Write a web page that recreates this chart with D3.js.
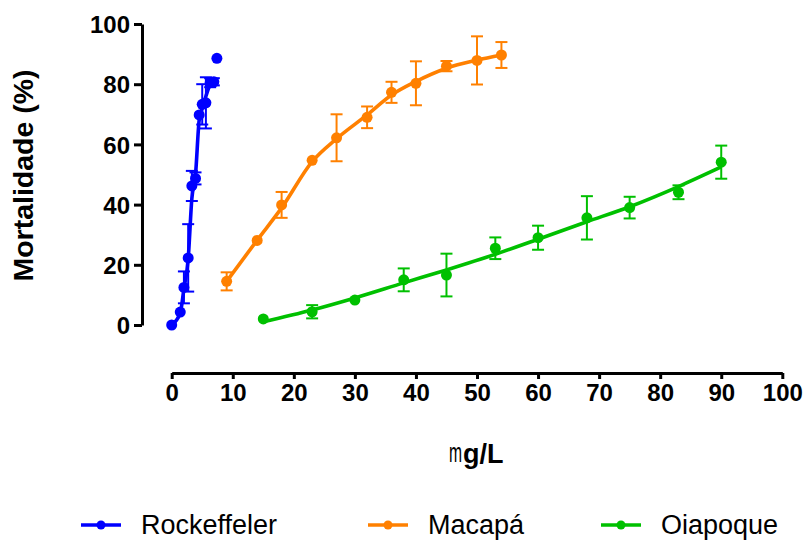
<!DOCTYPE html>
<html>
<head>
<meta charset="utf-8">
<script src="https://cdn.jsdelivr.net/npm/d3@7"></script>
<style>
  body { margin: 0; background: #fff; }
  svg { display: block; }
</style>
</head>
<body>
<div id="chart"></div>
<script>
// data
const seriesNames = ["Rockeffeler", "Macapá", "Oiapoque"];
const seriesColors = ["#0000ff", "#ff8000", "#00c000"];

const rockX = [0, 1.4, 2.0, 2.7, 3.3, 3.9, 4.5, 5.0, 5.6, 6.3, 6.9, 7.4];
const rockY = [0, 4.3, 12.5, 22.3, 46.2, 48.7, 69.8, 73.3, 73.8, 80.5, 80.8, 88.6];
const rockErr = [0, 0, 5.3, 11.2, 5, 2, 0, 6.7, 8.5, 1.5, 1.2, 0];
const rockFitX = [0, 1.4, 2.0, 2.7, 3.3, 3.9, 4.5, 5.0, 5.6, 6.3, 7.0];
const rockFitY = [0, 4, 12, 22, 42, 50, 68, 72, 76, 80, 82];

const macX = [9, 14, 18, 23, 27, 32, 36, 40, 45, 50, 54];
const macY = [14.5, 28.1, 39.9, 54.7, 62.2, 69, 77.3, 80.3, 86, 87.9, 89.7];
const macErr = [3, 0, 4.3, 0, 7.8, 3.6, 3.5, 7.3, 1.7, 8, 4.3];
const macFitX = [9, 14, 18, 23, 27, 32, 36, 40, 45, 50, 54];
const macFitY = [14.5, 28.2, 38.9, 54.3, 61.9, 69.8, 76.4, 80.9, 85.3, 88, 89.7];

const oiaX = [15, 23, 30, 38, 45, 53, 60, 68, 75, 83, 90];
const oiaY = [2.0, 4.4, 8.3, 15, 16.6, 25.5, 29, 35.6, 39, 44.1, 54.1];
const oiaErr = [0, 2.2, 0, 3.8, 7.1, 3.6, 4, 7.2, 3.6, 2.3, 5.5];
const oiaFitX = [15, 23, 30, 38, 45, 53, 60, 68, 75, 83, 90];
const oiaFitY = [1.1, 5.0, 9.0, 14.0, 18.3, 23.5, 28.5, 34.3, 39.3, 46, 52.5];

const xTicks = [0, 10, 20, 30, 40, 50, 60, 70, 80, 90, 100];
const yTicks = [0, 20, 40, 60, 80, 100];

function drawChart() {
  const width = 806, height = 540;

  const svg = d3
    .select("#chart")
    .append("svg")
    .attr("width", width)
    .attr("height", height)
    .style("font-family", "'Liberation Sans', Arial, sans-serif");

  // échelles
  const xScale = d3.scaleLinear().domain([0, 100]).range([171.7, 782.3]);
  const yScale = d3.scaleLinear().domain([0, 100]).range([325, 24]);

  const axisX = 142; // y axis position (offset like GraphPad)
  const axisY = 373; // x axis position

  // Axes
  const gx = svg
    .append("g")
    .attr("transform", `translate(0,${axisY})`)
    .call(d3.axisBottom(xScale).tickValues(xTicks).tickSize(6).tickSizeOuter(0).tickPadding(4));

  const gy = svg
    .append("g")
    .attr("transform", `translate(${axisX},0)`)
    .call(d3.axisLeft(yScale).tickValues(yTicks).tickSize(8).tickSizeOuter(0).tickPadding(4));

  [gx, gy].forEach((g) => {
    g.select(".domain").attr("stroke", "#000").attr("stroke-width", 3);
    g.selectAll(".tick line").attr("stroke", "#000").attr("stroke-width", 3);
    g.selectAll(".tick text")
      .attr("fill", "#000")
      .style("font-size", "24px")
      .style("font-weight", "bold")
      .style("font-family", "'Liberation Sans', Arial, sans-serif");
  });
  gx.selectAll(".tick text").attr("dy", "0.75em");
  gy.selectAll(".tick text").attr("dy", "0.36em");

  // axis titles
  svg
    .append("text")
    .attr("transform", "translate(33,175.5) rotate(-90)")
    .attr("text-anchor", "middle")
    .style("font-size", "28.5px")
    .style("font-weight", "bold")
    .text("Mortalidade (%)");

  // µ shown as a thin narrow "m" like in the original export
  svg
    .append("text")
    .attr("transform", "translate(449,462) scale(0.58,1)")
    .style("font-size", "27px")
    .style("font-weight", "normal")
    .text("m");
  svg
    .append("text")
    .attr("x", 463)
    .attr("y", 463)
    .style("font-size", "27px")
    .style("font-weight", "bold")
    .text("g/L");

  const series = [
    { x: rockX, y: rockY, e: rockErr, fx: rockFitX, fy: rockFitY },
    { x: macX, y: macY, e: macErr, fx: macFitX, fy: macFitY },
    { x: oiaX, y: oiaY, e: oiaErr, fx: oiaFitX, fy: oiaFitY },
  ];

  const line = d3
    .line()
    .x((d) => xScale(d[0]))
    .y((d) => yScale(d[1]))
    .curve(d3.curveMonotoneX);

  series.forEach((s, i) => {
    const color = seriesColors[i];
    const g = svg.append("g");
    const pts = s.x.map((x, k) => ({ x: x, y: s.y[k], e: s.e[k] }));

    // error bars
    const eb = g.selectAll(".eb").data(pts.filter((d) => d.e > 0)).enter().append("g");
    eb.append("line")
      .attr("x1", (d) => xScale(d.x))
      .attr("x2", (d) => xScale(d.x))
      .attr("y1", (d) => yScale(d.y - d.e))
      .attr("y2", (d) => yScale(d.y + d.e))
      .attr("stroke", color)
      .attr("stroke-width", 2);
    [-1, 1].forEach((sg) => {
      eb.append("line")
        .attr("x1", (d) => xScale(d.x) - 6)
        .attr("x2", (d) => xScale(d.x) + 6)
        .attr("y1", (d) => yScale(d.y + sg * d.e))
        .attr("y2", (d) => yScale(d.y + sg * d.e))
        .attr("stroke", color)
        .attr("stroke-width", 2);
    });

    // fitted curve
    g.append("path")
      .datum(s.fx.map((x, k) => [x, s.fy[k]]))
      .attr("fill", "none")
      .attr("stroke", color)
      .attr("stroke-width", 3.6)
      .attr("d", line);

    // points
    g.selectAll(".pt")
      .data(pts)
      .enter()
      .append("circle")
      .attr("cx", (d) => xScale(d.x))
      .attr("cy", (d) => yScale(d.y))
      .attr("r", 5.5)
      .attr("fill", color);
  });

  // légende
  const legendX = [81, 368, 601];
  const legend = svg.append("g").attr("transform", "translate(0,525)");
  seriesNames.forEach((name, i) => {
    const x0 = legendX[i];
    legend.append("line")
      .attr("x1", x0).attr("x2", x0 + 40)
      .attr("y1", 0).attr("y2", 0)
      .attr("stroke", seriesColors[i])
      .attr("stroke-width", 3.6);
    legend.append("circle")
      .attr("cx", x0 + 20).attr("cy", 0).attr("r", 4.5)
      .attr("fill", seriesColors[i]);
    legend.append("text")
      .attr("x", x0 + 60)
      .attr("y", 8.5)
      .style("font-size", "27px")
      .text(name);
  });
}

drawChart();
</script>
</body>
</html>
